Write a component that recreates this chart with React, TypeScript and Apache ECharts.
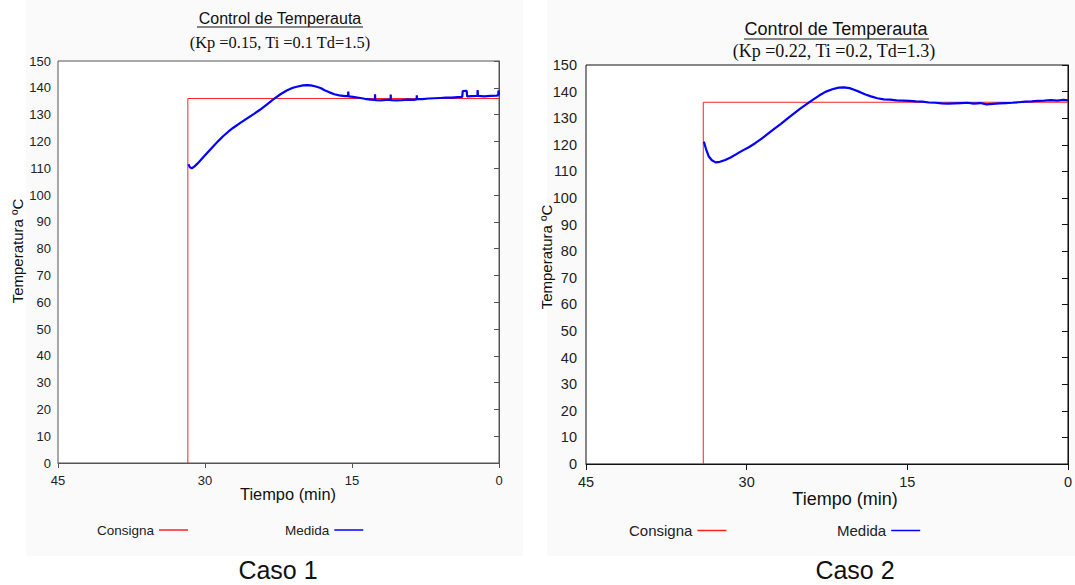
import React, { useEffect, useRef } from "react";
import * as echarts from "echarts";

const timeTicks = [0, 15, 30, 45];
const caseLabels = ["Caso 1", "Caso 2"];
const titles = ["Control de Temperauta", "Control de Temperauta"];
const subtitles = ["(Kp =0.15, Ti =0.1 Td=1.5)", "(Kp =0.22, Ti =0.2, Td=1.3)"];
const yName = "Temperatura ºC";
const xName = "Tiempo (min)";

// Caso 1
const consigna1: [number, number][] = [[31.75, 0], [31.75, 136], [0, 136]];
const medida1: [number, number][] = [
  [31.7, 111.5], [31.55, 110.4], [31.36, 109.9], [31.1, 110.6], [30.8, 111.6], [30.5, 112.8],
  [30.0, 114.8], [29.5, 116.8], [29.15, 118.2], [28.6, 120.3], [28.13, 122.0], [27.6, 123.7],
  [27.11, 125.1], [26.4, 126.9], [25.74, 128.5], [25.0, 130.3], [24.39, 131.8], [23.7, 133.7],
  [23.03, 135.7], [22.3, 137.6], [21.66, 139.0], [21.1, 139.9], [20.64, 140.4], [20.0, 140.9],
  [19.6, 141.0], [19.2, 140.9], [18.7, 140.5], [18.2, 139.9], [17.8, 139.1], [17.3, 138.3],
  [16.8, 137.6], [16.3, 137.2], [15.7, 136.9], [15.4, 136.9], [15.38, 138.6], [15.35, 136.8],
  [14.9, 136.6], [14.3, 136.3], [13.7, 135.9], [13.1, 135.6], [12.66, 135.5], [12.65, 137.6],
  [12.63, 135.4], [12.1, 135.3], [11.5, 135.5], [11.06, 135.6], [11.05, 137.5], [11.03, 135.4],
  [10.5, 135.3], [9.9, 135.4], [9.3, 135.6], [8.7, 135.5], [8.4, 135.7], [8.39, 137.2],
  [8.37, 135.8], [7.8, 135.8], [7.2, 136.0], [6.6, 136.1], [6.0, 136.2], [5.4, 136.3],
  [4.8, 136.3], [4.2, 136.5], [3.75, 136.6], [3.7, 138.8], [3.3, 138.9], [3.25, 136.8],
  [2.8, 136.9], [2.2, 137.0], [2.18, 139.2], [2.15, 137.0], [1.5, 136.8], [0.9, 137.0],
  [0.3, 137.1], [0.08, 137.2], [0.05, 139.0], [0, 137.4],
];

// Caso 2
const consigna2: [number, number][] = [[34.05, 0], [34.05, 136], [0, 136]];
const medida2: [number, number][] = [
  [34.0, 121.2], [33.8, 118.5], [33.55, 115.7], [33.25, 114.2], [32.9, 113.4], [32.5, 113.6],
  [32.0, 114.3], [31.5, 115.2], [31.0, 116.4], [30.4, 117.8], [29.8, 119.1], [29.2, 120.6],
  [28.6, 122.3], [28.0, 124.2], [27.4, 126.1], [26.8, 127.9], [26.2, 129.8], [25.6, 131.7],
  [25.0, 133.6], [24.4, 135.3], [23.8, 137.0], [23.2, 138.6], [22.6, 140.0], [22.0, 140.9],
  [21.4, 141.5], [20.9, 141.6], [20.4, 141.3], [19.9, 140.6], [19.4, 139.8], [18.9, 138.9],
  [18.4, 138.2], [17.8, 137.5], [17.2, 137.1], [16.6, 137.0], [16.0, 136.7], [15.4, 136.6],
  [14.8, 136.5], [14.2, 136.3], [13.6, 136.2], [13.0, 135.9], [12.4, 135.8], [11.8, 135.6],
  [11.2, 135.5], [10.6, 135.6], [10.0, 135.7], [9.4, 135.8], [8.8, 135.5], [8.2, 135.7],
  [7.6, 135.2], [7.0, 135.4], [6.4, 135.6], [5.8, 135.7], [5.2, 135.8], [4.6, 136.0],
  [4.0, 136.2], [3.4, 136.3], [2.8, 136.5], [2.2, 136.6], [1.6, 136.8], [1.0, 136.6],
  [0.4, 136.9], [0, 136.7],
];

const SANS = "'Liberation Sans', Arial, sans-serif";
const SERIF = "'Liberation Serif', 'Times New Roman', serif";

export default function App() {
  const ref = useRef<HTMLDivElement>(null);
  useEffect(() => {
    if (!ref.current) return;
    const chart = echarts.init(ref.current, null, { renderer: "svg" });
    const axisCols = ["#555", "#111"];
    const labelSizes = [13, 14.5];
    const xMargins = [11, 10];
    const yMargins = [7, 9];
    const tickLens = [5, 6];
    const grids = [
      { left: 58, top: 61, width: 441, height: 402 },
      { left: 586, top: 65, width: 486, height: 399 },
    ];
    const xAxes = grids.map((_, i) => ({
      type: "value",
      gridIndex: i,
      inverse: true,
      min: 0,
      max: 45,
      interval: 15,
      splitLine: { show: false },
      axisLine: { show: true, lineStyle: { color: axisCols[i], width: 1 } },
      axisTick: { show: true, length: tickLens[i], lineStyle: { color: axisCols[i] } },
      axisLabel: {
        color: "#222",
        fontFamily: SANS,
        fontSize: labelSizes[i],
        margin: xMargins[i],
        formatter: (v: number) => (timeTicks.includes(v) ? String(v) : ""),
      },
    }));
    const yAxes = grids.map((_, i) => ({
      type: "value",
      gridIndex: i,
      min: 0,
      max: 150,
      interval: 10,
      splitLine: { show: false },
      axisLine: { show: true, lineStyle: { color: axisCols[i], width: 1 } },
      axisTick: { show: true, length: tickLens[i], lineStyle: { color: axisCols[i] } },
      axisLabel: { color: "#222", fontFamily: SANS, fontSize: labelSizes[i], margin: yMargins[i] },
    }));
    const lineSeries = (name: string, data: [number, number][], i: number, color: string, width: number) => ({
      type: "line",
      name,
      xAxisIndex: i,
      yAxisIndex: i,
      data,
      showSymbol: false,
      symbol: "none",
      lineStyle: { color, width },
      itemStyle: { color },
      z: name === "Medida" ? 3 : 2,
    });
    const legendItem = (name: string, left: number, top: number, size: number) => ({
      data: [name],
      left,
      top,
      align: "right",
      icon: "rect",
      itemWidth: 29,
      itemHeight: 1.5,
      itemGap: 2,
      textStyle: { color: "#222", fontFamily: SANS, fontSize: size, padding: [0, 0, 0, 0] },
      padding: 0,
      selectedMode: false,
    });
    const txt = (text: string, x: number, y: number, font: string, rotation = 0) => ({
      type: "text",
      x,
      y,
      rotation,
      style: { text, font, fill: "#111", textAlign: "center", textVerticalAlign: "middle" },
    });
    chart.setOption({
      animation: false,
      backgroundColor: "#ffffff",
      grid: grids.map((g, i) => ({
        ...g,
        show: true,
        backgroundColor: "#ffffff",
        borderColor: axisCols[i],
        borderWidth: 1,
      })),
      xAxis: xAxes,
      yAxis: yAxes,
      legend: [
        legendItem("Consigna", 97, 523, 13.5),
        legendItem("Medida", 285, 523, 13.5),
        legendItem("Consigna", 629, 523, 15),
        legendItem("Medida", 837, 523, 15),
      ],
      series: [
        lineSeries("Consigna", consigna1, 0, "#ff2020", 1),
        lineSeries("Medida", medida1, 0, "#0000ff", 2.2),
        lineSeries("Consigna", consigna2, 1, "#ff2020", 1),
        lineSeries("Medida", medida2, 1, "#0000ff", 2.2),
      ],
      graphic: [
        { type: "rect", z: -10, shape: { x: 26, y: 0, width: 497, height: 556 }, style: { fill: "#fafafa" } },
        { type: "rect", z: -10, shape: { x: 547, y: 0, width: 528, height: 556 }, style: { fill: "#fafafa" } },
        txt(titles[0], 280, 18, `16px ${SANS}`),
        { type: "line", shape: { x1: 197, y1: 27, x2: 363, y2: 27 }, style: { stroke: "#111", lineWidth: 1 } },
        txt(subtitles[0], 280, 42, `16.4px ${SERIF}`),
        txt(titles[1], 836, 29, `18px ${SANS}`),
        { type: "line", shape: { x1: 744, y1: 39, x2: 929, y2: 39 }, style: { stroke: "#111", lineWidth: 1 } },
        txt(subtitles[1], 834, 51, `18px ${SERIF}`),
        txt(yName, 17, 251, `15px ${SANS}`, Math.PI / 2),
        txt(yName, 546, 257, `15px ${SANS}`, Math.PI / 2),
        txt(xName, 288, 494, `16.4px ${SANS}`),
        txt(xName, 845, 499, `18px ${SANS}`),
        txt(caseLabels[0], 278, 570, `25px ${SANS}`),
        txt(caseLabels[1], 855, 570, `25px ${SANS}`),
      ],
    });
    return () => chart.dispose();
  }, []);
  return <div ref={ref} style={{ position: "fixed", left: 0, top: 0, width: 1075, height: 585 }} />;
}
